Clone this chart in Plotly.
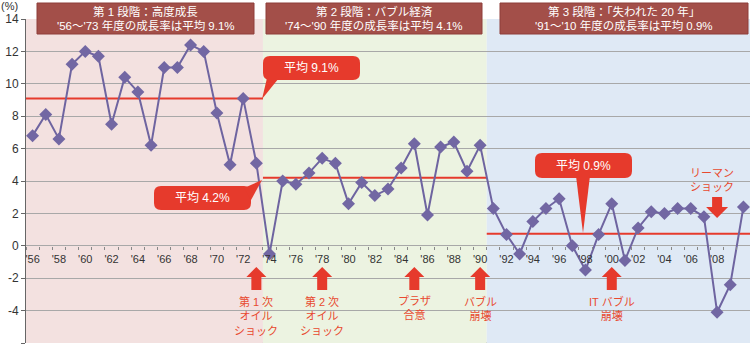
import plotly.graph_objects as go

# ---------------- data ----------------
years = list(range(1956, 2011))
growth = [6.8, 8.1, 6.6, 11.2, 12.0, 11.7, 7.5, 10.4, 9.5, 6.2,
          11.0, 11.0, 12.4, 12.0, 8.2, 5.0, 9.1, 5.1,
          -0.5, 4.0, 3.8, 4.5, 5.4, 5.1, 2.6, 3.9, 3.1, 3.5, 4.8, 6.3,
          1.9, 6.1, 6.4, 4.6, 6.2,
          2.3, 0.7, -0.5, 1.5, 2.3, 2.9, 0.0, -1.5, 0.7, 2.6, -0.9,
          1.1, 2.1, 2.0, 2.3, 2.3, 1.8, -4.1, -2.4, 2.4]
tick_years = list(range(1956, 2011, 2))
tick_labels = ["'%02d" % (y % 100) for y in tick_years]
y_ticks = list(range(-6, 15, 2))
y_tick_labels = [str(v) for v in y_ticks]

phase_start = [1955.5, 1973.5, 1990.5]
phase_end = [1973.5, 1990.5, 2010.5]
phase_avg_line = [9.1, 4.2, 0.75]
phase_colors = ["#f3e1e0", "#ecf3e1", "#dfe9f5"]
phase_title1 = ["第 1 段階：高度成長", "第 2 段階：バブル経済", "第 3 段階：「失われた 20 年」"]
phase_title2 = ["'56～'73 年度の成長率は平均 9.1%",
                "'74～'90 年度の成長率は平均 4.1%",
                "'91～'10 年度の成長率は平均 0.9%"]
callout_text = ["平均 9.1%", "平均 4.2%", "平均 0.9%"]

event_years_up = [1973, 1978, 1985, 1990, 2000]
event_text_up = ["第 1 次<br>オイル<br>ショック", "第 2 次<br>オイル<br>ショック",
                 "プラザ<br>合意", "バブル<br>崩壊", "IT バブル<br>崩壊"]
event_year_down = 2008
event_text_down = "リーマン<br>ショック"

# ---------------- geometry helpers ----------------
W, H = 750, 349
ML, MR, MT, MB = 26, 0, 19, 6
XR = (1955.5, 2010.5)
YR = (-6, 14)
PW = W - ML - MR
PH = H - MT - MB


def X(px):
    return XR[0] + (px - ML) / PW * (XR[1] - XR[0])


def Y(py):
    return YR[1] - (py - MT) / PH * (YR[1] - YR[0])


def px_of_x(x):
    return ML + (x - XR[0]) / (XR[1] - XR[0]) * PW


def PXp(px):
    return (px - ML) / PW


def PYp(py):
    return (H - MB - py) / PH


RED = "#e63a2c"
TXT_RED = "#e8492f"
BOX = "#a34f49"
FONT = "Liberation Sans, Noto Sans CJK JP, sans-serif"

shapes = []
annotations = []

# phase shading
for s, e, c in zip(phase_start, phase_end, phase_colors):
    shapes.append(dict(type="rect", xref="x", yref="y", x0=s, x1=e, y0=YR[0], y1=YR[1],
                       fillcolor=c, line=dict(width=0), layer="below"))

# average lines
for s, e, v in zip(phase_start, phase_end, phase_avg_line):
    shapes.append(dict(type="line", xref="x", yref="y", x0=s, x1=e, y0=v, y1=v,
                       line=dict(color=RED, width=2), layer="between"))

# bottom border line
shapes.append(dict(type="line", xref="paper", yref="y", x0=0, x1=1, y0=YR[0], y1=YR[0],
                   line=dict(color="#777", width=1.5), layer="between"))

# title boxes
title_boxes = [(37, 254), (266, 482), (500, 748)]
for (x0, x1), t1, t2 in zip(title_boxes, phase_title1, phase_title2):
    shapes.append(dict(type="rect", xref="paper", yref="paper",
                       x0=PXp(x0), x1=PXp(x1), y0=PYp(34), y1=PYp(3),
                       fillcolor=BOX, line=dict(color="#8e3f3a", width=1), layer="above"))
    xc = PXp((x0 + x1) / 2)
    annotations.append(dict(text=t1, xref="paper", yref="paper", x=xc, y=PYp(11.5),
                            showarrow=False, xanchor="center", yanchor="middle",
                            font=dict(family=FONT, size=11.5, color="white")))
    annotations.append(dict(text=t2, xref="paper", yref="paper", x=xc, y=PYp(26),
                            showarrow=False, xanchor="center", yanchor="middle",
                            font=dict(family=FONT, size=11.5, color="white")))


def rrect_path(x0, y0, x1, y1, r):
    pts = [("M", x0 + r, y0), ("L", x1 - r, y0), ("Q", x1, y0, x1, y0 + r),
           ("L", x1, y1 - r), ("Q", x1, y1, x1 - r, y1), ("L", x0 + r, y1),
           ("Q", x0, y1, x0, y1 - r), ("L", x0, y0 + r), ("Q", x0, y0, x0 + r, y0)]
    out = []
    for p in pts:
        if p[0] == "Q":
            out.append("Q %.4f,%.4f %.4f,%.4f" % (X(p[1]), Y(p[2]), X(p[3]), Y(p[4])))
        else:
            out.append("%s %.4f,%.4f" % (p[0], X(p[1]), Y(p[2])))
    return " ".join(out) + " Z"


def poly_path(pts):
    s = "M %.4f,%.4f " % (X(pts[0][0]), Y(pts[0][1]))
    s += " ".join("L %.4f,%.4f" % (X(a), Y(b)) for a, b in pts[1:])
    return s + " Z"


# callouts (box + tail), in pixel layout
callouts = [
    ((263, 56, 360, 80), [(267, 78), (279, 78), (262, 99)]),
    ((154, 186, 251, 210), [(244, 188), (251, 200), (262, 180)]),
    ((535, 153, 632, 178), [(576, 176), (590, 176), (583, 233)]),
]
for (bx, tail), txt in zip(callouts, callout_text):
    shapes.append(dict(type="path", xref="x", yref="y", path=rrect_path(*bx, 7),
                       fillcolor=RED, line=dict(width=0), layer="above"))
    shapes.append(dict(type="path", xref="x", yref="y", path=poly_path(tail),
                       fillcolor=RED, line=dict(width=0), layer="above"))
    annotations.append(dict(text=txt, xref="x", yref="y", x=X((bx[0] + bx[2]) / 2),
                            y=Y((bx[1] + bx[3]) / 2), showarrow=False,
                            xanchor="center", yanchor="middle",
                            font=dict(family=FONT, size=12, color="white")))


def up_arrow(cx, tip, base, bottom, hw=10, sw=5):
    return [(cx, tip), (cx + hw, base), (cx + sw, base), (cx + sw, bottom),
            (cx - sw, bottom), (cx - sw, base), (cx - hw, base)]


def down_arrow(cx, top, base, tip, hw=11, sw=5):
    return [(cx - sw, top), (cx + sw, top), (cx + sw, base), (cx + hw, base),
            (cx, tip), (cx - hw, base), (cx - sw, base)]


for yr, txt in zip(event_years_up, event_text_up):
    cx = px_of_x(yr)
    shapes.append(dict(type="path", xref="x", yref="y",
                       path=poly_path(up_arrow(cx, 267, 277, 290)),
                       fillcolor=RED, line=dict(width=0), layer="above"))
    annotations.append(dict(text=txt, xref="x", yref="y", x=yr,
                            y=Y(293), showarrow=False, xanchor="center", yanchor="top",
                            font=dict(family=FONT, size=11, color=TXT_RED)))

cx = px_of_x(event_year_down)
shapes.append(dict(type="path", xref="x", yref="y",
                   path=poly_path(down_arrow(cx, 197, 207, 218)),
                   fillcolor=RED, line=dict(width=0), layer="above"))
annotations.append(dict(text=event_text_down, xref="x", yref="y", x=X(cx - 5),
                        y=Y(195), showarrow=False, xanchor="center", yanchor="bottom",
                        font=dict(family=FONT, size=11, color=TXT_RED)))

# (%) label
annotations.append(dict(text="(%)", xref="paper", yref="paper", x=PXp(-1), y=PYp(6),
                        showarrow=False, xanchor="left", yanchor="middle",
                        font=dict(family=FONT, size=11, color="#333")))

fig = go.Figure()
fig.add_trace(go.Scatter(x=years, y=growth, mode="lines+markers",
                         line=dict(color="#6e64a0", width=2),
                         marker=dict(symbol="diamond", size=10, color="#7267a3"),
                         cliponaxis=False, showlegend=False, hoverinfo="skip"))

fig.update_layout(
    width=W, height=H,
    margin=dict(l=ML, r=MR, t=MT, b=MB, pad=0),
    paper_bgcolor="white", plot_bgcolor="white",
    shapes=shapes, annotations=annotations,
    font=dict(family=FONT, color="#333"),
    xaxis=dict(range=list(XR), tickvals=tick_years, ticktext=tick_labels,
               anchor="free", position=(0 - YR[0]) / (YR[1] - YR[0]),
               showgrid=False, zeroline=False, showline=False,
               ticks="outside", ticklen=0, ticklabelstandoff=3,
               tickfont=dict(size=11, color="#333"),
               minor=dict(ticks="outside", ticklen=3, tick0=1955.5, dtick=1,
                          tickcolor="#888", showgrid=False)),
    yaxis=dict(range=list(YR), tickvals=y_ticks, ticktext=y_tick_labels,
               showgrid=True, gridcolor="#a8a8a8", gridwidth=1, zeroline=False,
               showline=True, linecolor="#666", linewidth=1,
               ticks="outside", ticklen=4, tickcolor="#666",
               tickfont=dict(size=12, color="#333")),
)

fig.write_html("out.html")
